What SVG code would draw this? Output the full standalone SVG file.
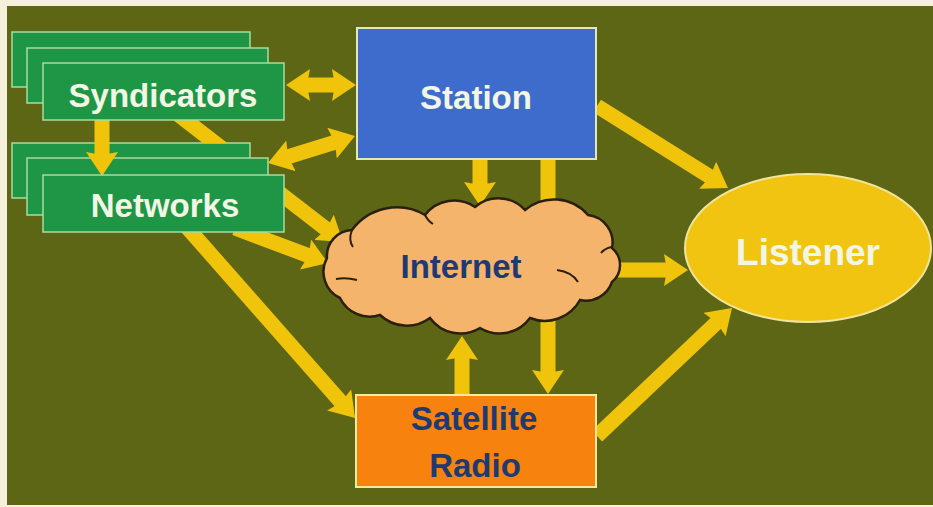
<svg xmlns="http://www.w3.org/2000/svg" width="933" height="507" viewBox="0 0 933 507">
<defs>
<marker id="ah" viewBox="0 0 24 32" refX="12" refY="16" markerWidth="24" markerHeight="32" markerUnits="userSpaceOnUse" orient="auto-start-reverse">
<path d="M0,0 L24,16 L0,32 L3,16 Z" fill="#f1c40c"/>
</marker>
<clipPath id="nostack">
<path d="M0 0H933V507H0Z M12 143H284V232H12Z" clip-rule="evenodd"/>
</clipPath>
</defs>
<style>
.arr{stroke:#f1c40c;stroke-width:15;fill:none;marker-end:url(#ah)}
.both{marker-start:url(#ah)}
.g{fill:#1f9646;stroke:#a8dca0;stroke-width:1.5}
.t{font-family:"Liberation Sans",Arial,sans-serif;font-weight:bold;font-size:33px;text-anchor:middle}
.w{fill:#f2f6e4}
.b{fill:#1e3a72}
.curl{fill:none;stroke:#2a2010;stroke-width:2}
</style>
<rect x="0" y="0" width="933" height="507" fill="#f4f0dc"/>
<rect x="7" y="6" width="926" height="499" fill="#5c6615"/>

<g id="networks-stack">
<rect class="g" x="12" y="143" width="238" height="55"/>
<rect class="g" x="27" y="158" width="241" height="57"/>
</g>

<g id="connectors">
<line class="arr both" x1="298" y1="85" x2="344" y2="85"/>
<line class="arr both" x1="279.5" y1="159.4" x2="343.5" y2="139.6"/>
<line class="arr" x1="102" y1="118" x2="102" y2="164"/>
<line class="arr" x1="175" y1="112" x2="333.5" y2="234.7" clip-path="url(#nostack)"/>
<line class="arr" x1="235" y1="228" x2="316.8" y2="258.8"/>
<line class="arr" x1="185" y1="225" x2="347.1" y2="409"/>
<line class="arr" x1="480" y1="155" x2="480" y2="194"/>
<line class="arr" x1="548" y1="155" x2="548" y2="382"/>
<line class="arr" x1="462" y1="398" x2="462" y2="348"/>
<line class="arr" x1="618" y1="270" x2="676" y2="270"/>
<line class="arr" x1="597" y1="106" x2="717.8" y2="181.6"/>
<line class="arr" x1="597" y1="436" x2="723.3" y2="316.3"/>
</g>

<g id="syndicators">
<rect class="g" x="12" y="32" width="238" height="55"/>
<rect class="g" x="27" y="48" width="241" height="55"/>
<rect class="g" x="43" y="63" width="241" height="57"/>
<text class="t w" x="163" y="107">Syndicators</text>
</g>

<g id="networks">
<rect class="g" x="43" y="175" width="241" height="57"/>
<text class="t w" x="165" y="217">Networks</text>
</g>

<g id="station">
<rect x="357" y="28" width="239" height="131" fill="#3e6ccc" stroke="#e4e8b8" stroke-width="2"/>
<text class="t w" x="476" y="109">Station</text>
</g>

<g id="internet">
<path d="M327 258 A26 26 0 0 1 352 230 A56 56 0 0 1 425 215 A37 37 0 0 1 475 207 A36 36 0 0 1 525 210 A45 45 0 0 1 588 215 A27.6 27.6 0 0 1 612 248 A22 22 0 0 1 612 282 A27.6 27.6 0 0 1 580 300 A40 40 0 0 1 530 318 A37.5 37.5 0 0 1 480 328 A37.5 37.5 0 0 1 430 318 A39 39 0 0 1 380 315 A33 33 0 0 1 340 298 A29 29 0 0 1 327 258 Z" fill="#f5b46c" stroke="#2a2010" stroke-width="2.5"/>
<path class="curl" d="M352 230 Q348 240 353 247"/>
<path class="curl" d="M336 279 Q346 277 357 280"/>
<path class="curl" d="M557 270 Q572 272 578 282"/>
<path class="curl" d="M601 253 Q604 249 611 247"/>
<path class="curl" d="M425 215 Q428 221 433 224"/>
<text class="t b" x="461" y="278">Internet</text>
</g>

<g id="satellite">
<rect x="356" y="395" width="240" height="92" fill="#f7820e" stroke="#f5eaa0" stroke-width="2"/>
<text class="t b" x="474" y="430">Satellite</text>
<text class="t b" x="475" y="477">Radio</text>
</g>

<g id="listener">
<ellipse cx="808" cy="248" rx="123" ry="74" fill="#f2c412" stroke="#f0e49a" stroke-width="2"/>
<text class="t w" x="808" y="265" style="font-size:37px">Listener</text>
</g>
</svg>
